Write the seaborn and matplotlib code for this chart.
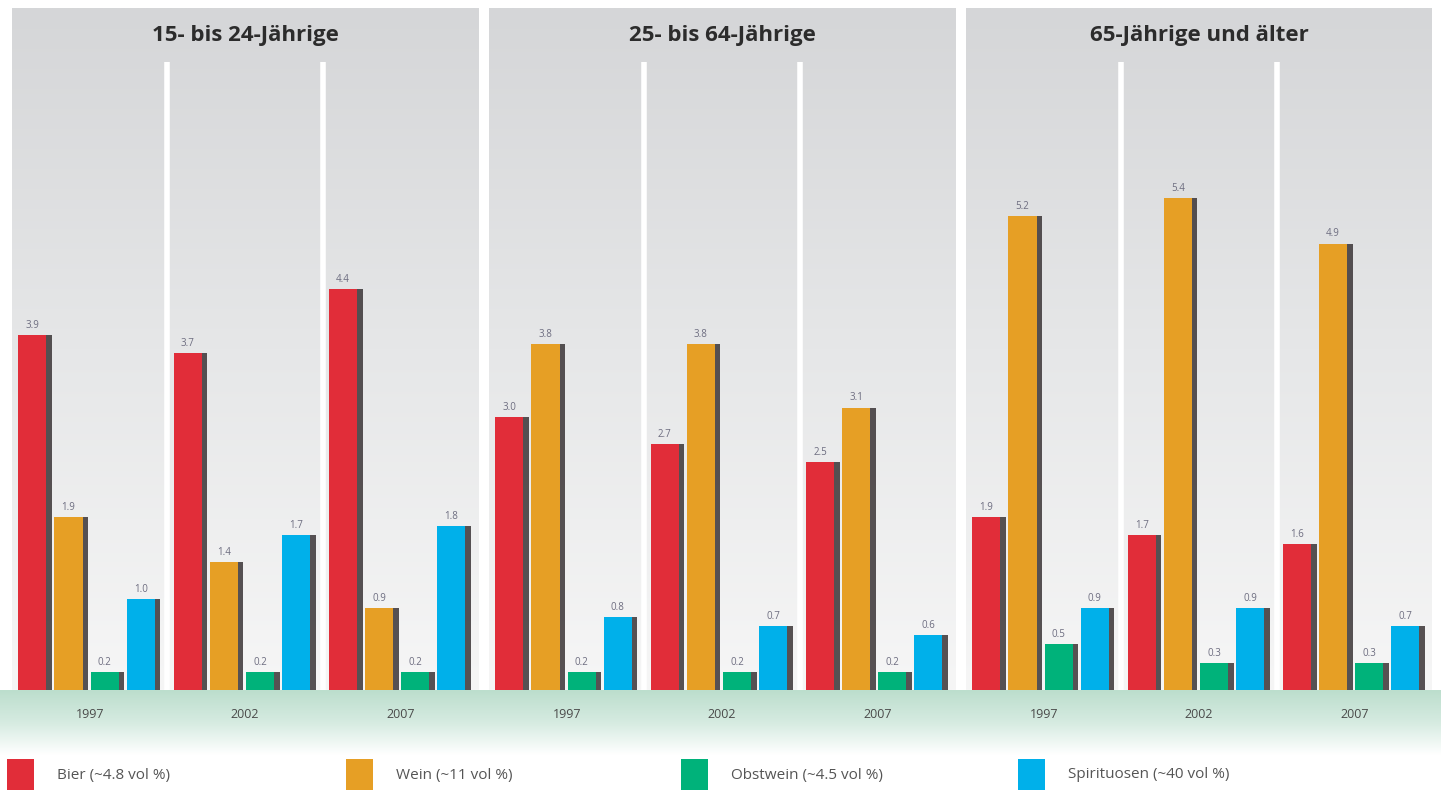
import numpy as np
import pandas as pd
import matplotlib
matplotlib.use("Agg")
import matplotlib.pyplot as plt
import seaborn as sns
from matplotlib import patheffects as pe
from matplotlib.colors import LinearSegmentedColormap
from matplotlib.patches import Rectangle

# ---------------- data ----------------
groups = ["15- bis 24-Jährige", "25- bis 64-Jährige", "65-Jährige und älter"]
years = ["1997", "2002", "2007"]
drinks = ["Bier", "Wein", "Obstwein", "Spirituosen"]
legend_labels = ["Bier (~4.8 vol %)", "Wein (~11 vol %)",
                 "Obstwein (~4.5 vol %)", "Spirituosen (~40 vol %)"]
colors = ["#e12d39", "#e69f25", "#00b27a", "#00b0ea"]

bier = [[3.9, 3.7, 4.4], [3.0, 2.7, 2.5], [1.9, 1.7, 1.6]]
wein = [[1.9, 1.4, 0.9], [3.8, 3.8, 3.1], [5.2, 5.4, 4.9]]
obstwein = [[0.2, 0.2, 0.2], [0.2, 0.2, 0.2], [0.5, 0.3, 0.3]]
spirituosen = [[1.0, 1.7, 1.8], [0.8, 0.7, 0.6], [0.9, 0.9, 0.7]]

series = {"Bier": bier, "Wein": wein, "Obstwein": obstwein, "Spirituosen": spirituosen}
rows = []
for gi, g in enumerate(groups):
    for yi, y in enumerate(years):
        for d in drinks:
            rows.append({"Gruppe": g, "Jahr": y, "Getränk": d, "Wert": series[d][gi][yi]})
df = pd.DataFrame(rows)

# ---------------- figure ----------------
sns.set_style("white")
plt.rcParams["font.family"] = ["Open Sans", "DejaVu Sans"]

W, H = 1441, 792
fig = plt.figure(figsize=(W / 100, H / 100), dpi=100)

# green band under the baseline
band = fig.add_axes([0, (H - 755) / H, 1, 65 / H], zorder=0)
band_cmap = LinearSegmentedColormap.from_list("band", ["#bcdecd", "#d6ebe1", "#ffffff"])
band.imshow(np.linspace(0, 1, 200).reshape(-1, 1), aspect="auto", cmap=band_cmap,
            extent=[0, 1, 0, 1])
band.axis("off")

bg_cmap = LinearSegmentedColormap.from_list("bg", ["#f6f6f6", "#e6e7e8", "#d5d6d8"])
px_per_unit = 91.1
axis_h = 682
ymax = axis_h / px_per_unit
lefts = [12, 489, 966]
panel_w = 466

for gi, g in enumerate(groups):
    ax = fig.add_axes([lefts[gi] / W, (H - 690) / H, panel_w / W, axis_h / H], zorder=1)
    ax.imshow(np.linspace(0, 1, 256).reshape(-1, 1), extent=[-0.5, 2.5, 0, ymax],
              aspect="auto", cmap=bg_cmap, origin="lower", zorder=0)
    sub = df[df["Gruppe"] == g]
    sns.barplot(data=sub, x="Jahr", y="Wert", hue="Getränk", hue_order=drinks,
                order=years, palette=colors, saturation=1, width=0.93, gap=0.22,
                legend=False, ax=ax, errorbar=None, zorder=2,
                linewidth=0, edgecolor="none")
    for cont in ax.containers:
        for p in cont:
            p.set_x(p.get_x() - 0.02)
            p.set_path_effects([
                pe.SimplePatchShadow(offset=(4.0, 0), shadow_rgbFace="#3a3436", alpha=0.85),
                pe.Normal()])
        ax.bar_label(cont, fmt="%.1f", padding=3, fontsize=7, color="#6d6d80")
    ax.set_xlim(-0.5, 2.5)
    ax.set_ylim(0, ymax)
    for xs in (0.5, 1.5):
        ax.axvline(xs, ymin=0, ymax=(690 - 62) / axis_h, color="white", lw=4,
                   zorder=1, solid_capstyle="butt")
    ax.text(0.5, (690 - 35) / axis_h, g, transform=ax.transAxes, ha="center", va="center",
            fontsize=16, fontweight="bold", color="#2c2c2c")
    ax.set_xlabel("")
    ax.set_ylabel("")
    ax.set_yticks([])
    ax.tick_params(axis="x", length=0, pad=13, labelsize=9, labelcolor="#4a4a4a")
    for s in ax.spines.values():
        s.set_visible(False)

# legend
leg_x = [7, 346, 681, 1018]
for x, c, lab in zip(leg_x, colors, legend_labels):
    fig.add_artist(Rectangle((x / W, (H - 790) / H), 27 / W, 31 / H,
                             transform=fig.transFigure, color=c, lw=0))
    fig.text((x + 50) / W, (H - 775) / H, lab, va="center", ha="left",
             fontsize=11, color="#555555")

fig.savefig("out.png", dpi=100)
